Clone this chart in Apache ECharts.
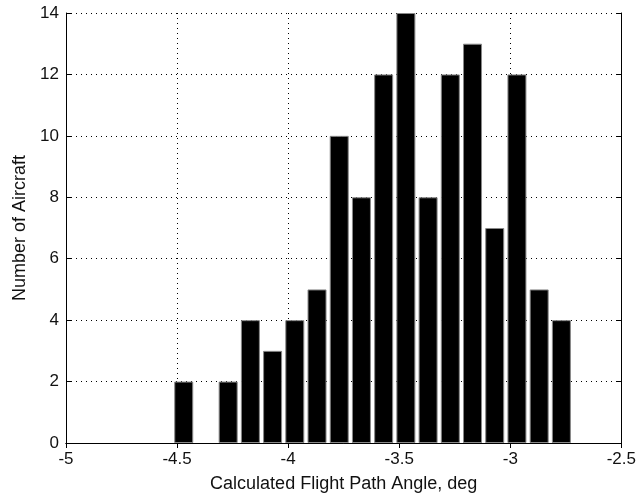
<!DOCTYPE html>
<html><head><meta charset="utf-8">
<script src="https://cdn.jsdelivr.net/npm/echarts@6/dist/echarts.min.js"></script>
<style>html,body{margin:0;padding:0;background:#fff}#c{width:639px;height:498px}</style>
</head><body><div id="c"></div>
<script>
var binCenters = [-4.47,-4.37,-4.27,-4.17,-4.07,-3.97,-3.87,-3.77,-3.67,-3.57,-3.47,-3.37,-3.27,-3.17,-3.07,-2.97,-2.87,-2.77];
var counts     = [2,0,2,4,3,4,5,10,8,12,14,8,12,13,7,12,5,4];
var xTicks = [-5,-4.5,-4,-3.5,-3,-2.5];
var yTicks = [0,2,4,6,8,10,12,14];
var xTitle = 'Calculated Flight Path Angle, deg';
var yTitle = 'Number of Aircraft';

var font = 'Liberation Sans, Arial, sans-serif';
var chart = echarts.init(document.getElementById('c'));
var data = binCenters.map(function(x,i){
  var d = {value:[x,counts[i]]};
  if (counts[i] === 0) d.itemStyle = {borderWidth:0};
  return d;
});
var lab = {color:'#111', fontFamily:font, fontSize:17};
chart.setOption({
  animation:false,
  grid:{left:66,right:14,top:13,bottom:54},
  xAxis:[{
    type:'value', min:xTicks[0], max:xTicks[xTicks.length-1], interval:0.5,
    axisLine:{onZero:false, lineStyle:{color:'#000',width:1}},
    axisTick:{inside:true,length:5,lineStyle:{color:'#000'}},
    axisLabel:Object.assign({margin:8, formatter:function(v){return String(+v.toFixed(2));}},lab),
    splitLine:{show:true,lineStyle:{color:'#000',type:[1,4],width:1}},
    name:xTitle, nameLocation:'middle', nameGap:32,
    nameTextStyle:{color:'#111',fontFamily:font,fontSize:18}
  },{
    type:'value', position:'top', min:xTicks[0], max:xTicks[xTicks.length-1], interval:0.5,
    axisLine:{show:true,lineStyle:{color:'#000'}},
    axisTick:{inside:true,length:5,lineStyle:{color:'#000'}},
    axisLabel:{show:false}, splitLine:{show:false}
  }],
  yAxis:[{
    type:'value', min:yTicks[0], max:yTicks[yTicks.length-1], interval:2,
    axisLine:{show:true,onZero:false,lineStyle:{color:'#000'}},
    axisTick:{show:true,inside:true,length:5,lineStyle:{color:'#000'}},
    axisLabel:Object.assign({margin:7},lab),
    splitLine:{show:true,lineStyle:{color:'#000',type:[1,4],width:1}},
    name:yTitle, nameLocation:'middle', nameGap:37,
    nameTextStyle:{color:'#111',fontFamily:font,fontSize:18}
  },{
    type:'value', position:'right', min:yTicks[0], max:yTicks[yTicks.length-1], interval:2,
    axisLine:{show:true,lineStyle:{color:'#000'}},
    axisTick:{show:true,inside:true,length:5,lineStyle:{color:'#000'}},
    axisLabel:{show:false}, splitLine:{show:false}
  }],
  series:[{
    type:'bar', xAxisIndex:0, yAxisIndex:0, data:data, barWidth:19,
    itemStyle:{color:'#000', borderColor:'#888', borderWidth:1}
  }]
});
</script></body></html>
